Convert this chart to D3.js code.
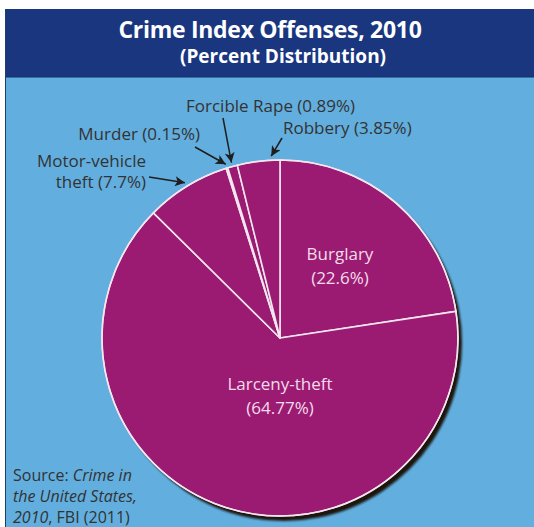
<!DOCTYPE html>
<html>
<head>
<meta charset="utf-8">
<script src="https://cdn.jsdelivr.net/npm/d3@7"></script>
<style>
  body { margin: 0; background: #fff; }
  svg { display: block; font-family: "Open Sans", "Noto Sans", sans-serif; }
</style>
</head>
<body>
<div id="chart"></div>
<script>
// data, clockwise from 12 o'clock
const categories = ["Burglary", "Larceny-theft", "Motor-vehicle theft", "Murder", "Forcible Rape", "Robbery"];
const percents = [22.6, 64.77, 7.7, 0.15, 0.89, 3.85];
const insideLabels = [["Burglary", "(22.6%)"], ["Larceny-theft", "(64.77%)"]];
const outsideLabels = [["Motor-vehicle", "theft (7.7%)"], ["Murder (0.15%)"], ["Forcible Rape (0.89%)"], ["Robbery (3.85%)"]];

const width = 534, height = 527;
const cx = 280, cy = 338, r = 178;

const svg = d3.select("#chart").append("svg")
  .attr("width", width)
  .attr("height", height);

// panels
svg.append("rect").attr("x", 5).attr("y", 77).attr("width", width - 5).attr("height", height - 77)
  .attr("fill", "#62aede");
svg.append("rect").attr("x", 5).attr("y", 9).attr("width", width - 5).attr("height", 68)
  .attr("fill", "#19367f");
svg.append("line").attr("x1", 5).attr("x2", width).attr("y1", 77).attr("y2", 77)
  .attr("stroke", "#12306f").attr("stroke-width", 1);
svg.append("line").attr("x1", 5.5).attr("x2", 5.5).attr("y1", 9).attr("y2", height)
  .attr("stroke", "#1d3d6b").attr("stroke-width", 1);

svg.append("text").attr("x", 270).attr("y", 38).attr("text-anchor", "middle")
  .attr("fill", "#fff").attr("font-weight", "bold").attr("font-size", 23)
  .attr("letter-spacing", -0.3)
  .text("Crime Index Offenses, 2010");
svg.append("text").attr("x", 283).attr("y", 63).attr("text-anchor", "middle")
  .attr("fill", "#fff").attr("font-weight", "bold").attr("font-size", 19)
  .text("(Percent Distribution)");

// pie
const pie = d3.pie().sort(null).value(d => d)(percents);
const arc = d3.arc().innerRadius(0).outerRadius(r);

const defs = svg.append("defs");
defs.append("filter").attr("id", "soft")
  .append("feGaussianBlur").attr("stdDeviation", 0.8);

svg.append("circle").attr("cx", cx + 4).attr("cy", cy + 5).attr("r", r)
  .attr("fill", "#1c1511").attr("filter", "url(#soft)");

const g = svg.append("g").attr("transform", `translate(${cx},${cy})`);
g.selectAll("path").data(pie).join("path")
  .attr("d", arc)
  .attr("fill", "#9c1b72")
  .attr("stroke", "#f3e6ef")
  .attr("stroke-width", 1.6)
  .attr("stroke-linejoin", "round");
g.append("circle").attr("r", r).attr("fill", "none")
  .attr("stroke", "#f3e6ef").attr("stroke-width", 1.4);

// inside labels
const inPos = [[60, -78], [0, 52]];
insideLabels.forEach((lines, i) => {
  const t = g.append("text").attr("text-anchor", "middle")
    .attr("fill", "#f3dcea").attr("font-size", 17);
  lines.forEach((s, j) => t.append("tspan").attr("x", inPos[i][0]).attr("y", inPos[i][1] + j * 24).text(s));
});

// outside labels with arrows
const labelSpec = [
  { slice: 2, x: 146, y: 167, anchor: "end", from: [149, 177] },
  { slice: 3, x: 200, y: 140, anchor: "end", from: [195, 147] },
  { slice: 4, x: 186, y: 112, anchor: "start", from: [223, 118] },
  { slice: 5, x: 283, y: 134, anchor: "start", from: [282, 138] }
];
const tipAngle = [0.5, 0.5, 0.5, 0.8];

defs.append("marker").attr("id", "head")
  .attr("viewBox", "0 0 10 10").attr("refX", 10).attr("refY", 5)
  .attr("markerWidth", 11).attr("markerHeight", 10).attr("markerUnits", "userSpaceOnUse")
  .attr("orient", "auto")
  .append("path").attr("d", "M0,0 L10,5 L0,10 L2.5,5 Z").attr("fill", "#1e1e1e");

labelSpec.forEach((s, i) => {
  const d = pie[s.slice];
  const a = d.startAngle + (d.endAngle - d.startAngle) * tipAngle[i];
  const tr = r + 4;
  const tx = cx + tr * Math.sin(a), ty = cy - tr * Math.cos(a);
  svg.append("line")
    .attr("x1", s.from[0]).attr("y1", s.from[1])
    .attr("x2", tx).attr("y2", ty)
    .attr("stroke", "#1e1e1e").attr("stroke-width", 1.5)
    .attr("marker-end", "url(#head)");
  const t = svg.append("text").attr("text-anchor", s.anchor)
    .attr("fill", "#333").attr("font-size", 17);
  outsideLabels[i].forEach((line, j) =>
    t.append("tspan").attr("x", s.x).attr("y", s.y + j * 21).text(line));
});

// source
const src = svg.append("text").attr("fill", "#333").attr("font-size", 16);
const l1 = src.append("tspan").attr("x", 13).attr("y", 481);
l1.append("tspan").text("Source: ");
l1.append("tspan").attr("font-style", "italic").text("Crime in");
src.append("tspan").attr("x", 13).attr("y", 502).attr("font-style", "italic").text("the United States,");
const l3 = src.append("tspan").attr("x", 13).attr("y", 523);
l3.append("tspan").attr("font-style", "italic").text("2010");
l3.append("tspan").text(", FBI (2011)");
</script>
</body>
</html>
